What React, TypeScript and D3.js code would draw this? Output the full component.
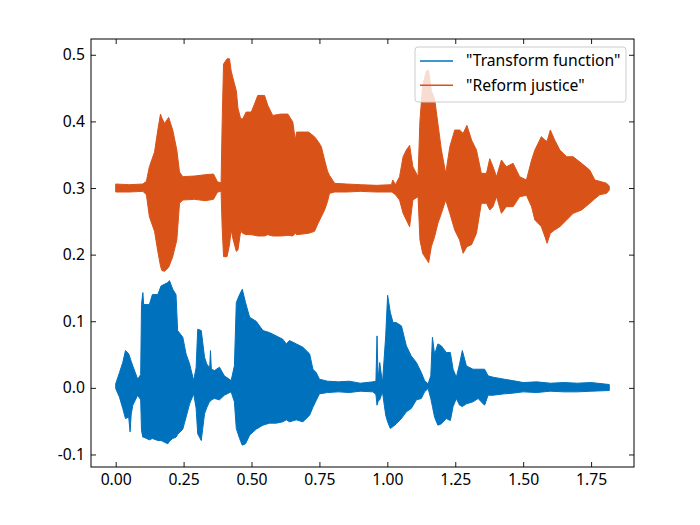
import React, { useEffect, useRef } from 'react'
import * as d3 from 'd3'

// envelope of "Transform function" (blue): [time, upper, lower]
const blueEnvelope: [number, number, number][] = [
  [0.000, 0.006, -0.001], [0.014, 0.023, -0.014], [0.026, 0.038, -0.031], [0.036, 0.056, -0.046],
  [0.048, 0.051, -0.044], [0.053, 0.045, -0.066], [0.057, 0.040, -0.040], [0.063, 0.033, -0.026],
  [0.081, 0.013, -0.011], [0.092, 0.020, -0.018], [0.095, 0.125, -0.064], [0.100, 0.143, -0.074],
  [0.103, 0.125, -0.074], [0.124, 0.125, -0.078], [0.135, 0.140, -0.076], [0.155, 0.140, -0.079],
  [0.167, 0.153, -0.079], [0.192, 0.158, -0.084], [0.198, 0.161, -0.080], [0.210, 0.148, -0.076],
  [0.222, 0.140, -0.074], [0.228, 0.086, -0.070], [0.247, 0.076, -0.062], [0.259, 0.051, -0.044],
  [0.272, 0.036, -0.024], [0.287, 0.011, -0.009], [0.296, 0.030, -0.030], [0.302, 0.088, -0.069],
  [0.315, 0.086, -0.079], [0.327, 0.046, -0.039], [0.335, 0.036, -0.030], [0.346, 0.030, -0.020],
  [0.349, 0.056, -0.020], [0.352, 0.028, -0.018], [0.364, 0.026, -0.016], [0.382, 0.031, -0.018],
  [0.400, 0.018, -0.011], [0.425, 0.011, -0.006], [0.437, 0.033, -0.021], [0.444, 0.128, -0.061],
  [0.456, 0.140, -0.076], [0.466, 0.148, -0.086], [0.478, 0.128, -0.084], [0.493, 0.106, -0.071],
  [0.517, 0.100, -0.062], [0.542, 0.086, -0.056], [0.566, 0.083, -0.053], [0.591, 0.078, -0.053],
  [0.615, 0.073, -0.051], [0.628, 0.066, -0.048], [0.640, 0.071, -0.051], [0.665, 0.066, -0.048],
  [0.689, 0.061, -0.051], [0.714, 0.051, -0.041], [0.726, 0.028, -0.029], [0.738, 0.023, -0.019],
  [0.750, 0.013, -0.009], [0.780, 0.010, -0.007], [0.820, 0.009, -0.006], [0.860, 0.010, -0.007],
  [0.900, 0.007, -0.005], [0.947, 0.009, -0.006], [0.958, 0.010, -0.010], [0.962, 0.078, -0.026],
  [0.966, 0.012, -0.020], [0.972, 0.038, -0.018], [0.982, 0.007, -0.006], [0.994, 0.078, -0.041],
  [1.001, 0.139, -0.051], [1.011, 0.113, -0.061], [1.021, 0.098, -0.058], [1.033, 0.098, -0.054],
  [1.052, 0.093, -0.046], [1.070, 0.063, -0.036], [1.088, 0.048, -0.031], [1.107, 0.038, -0.018],
  [1.125, 0.023, -0.016], [1.137, 0.011, -0.006], [1.150, 0.006, -0.001], [1.160, 0.018, -0.016],
  [1.166, 0.076, -0.028], [1.174, 0.050, -0.044], [1.186, 0.066, -0.056], [1.199, 0.063, -0.054],
  [1.217, 0.053, -0.046], [1.232, 0.053, -0.049], [1.242, 0.028, -0.028], [1.254, 0.016, -0.016],
  [1.266, 0.036, -0.026], [1.276, 0.056, -0.028], [1.291, 0.033, -0.024], [1.315, 0.028, -0.021],
  [1.334, 0.028, -0.016], [1.358, 0.028, -0.026], [1.371, 0.018, -0.011], [1.389, 0.016, -0.011],
  [1.430, 0.013, -0.009], [1.460, 0.011, -0.008], [1.500, 0.008, -0.006], [1.550, 0.009, -0.007],
  [1.600, 0.007, -0.005], [1.650, 0.008, -0.006], [1.700, 0.007, -0.006], [1.750, 0.008, -0.005],
  [1.817, 0.005, -0.004],
]

// envelope of "Reform justice" (orange), drawn around 0.3
const orangeEnvelope: [number, number, number][] = [
  [0.000, 0.306, 0.294], [0.050, 0.305, 0.294], [0.100, 0.306, 0.295], [0.113, 0.310, 0.290],
  [0.124, 0.332, 0.257], [0.143, 0.354, 0.235], [0.155, 0.387, 0.205], [0.165, 0.411, 0.183],
  [0.170, 0.405, 0.176], [0.180, 0.397, 0.175], [0.195, 0.406, 0.181], [0.210, 0.387, 0.197],
  [0.225, 0.357, 0.222], [0.235, 0.324, 0.277], [0.247, 0.317, 0.282], [0.290, 0.318, 0.283],
  [0.330, 0.320, 0.281], [0.360, 0.321, 0.283], [0.375, 0.309, 0.294], [0.388, 0.308, 0.295],
  [0.392, 0.400, 0.240], [0.397, 0.486, 0.197], [0.410, 0.494, 0.197], [0.419, 0.494, 0.215],
  [0.425, 0.476, 0.237], [0.431, 0.466, 0.225], [0.444, 0.446, 0.205], [0.450, 0.420, 0.207],
  [0.460, 0.404, 0.235], [0.468, 0.404, 0.232], [0.480, 0.414, 0.230], [0.499, 0.414, 0.230],
  [0.511, 0.426, 0.229], [0.523, 0.439, 0.228], [0.548, 0.439, 0.228], [0.560, 0.424, 0.230],
  [0.578, 0.409, 0.228], [0.609, 0.411, 0.228], [0.634, 0.411, 0.229], [0.652, 0.399, 0.228],
  [0.661, 0.372, 0.232], [0.666, 0.384, 0.230], [0.710, 0.384, 0.232], [0.732, 0.377, 0.235],
  [0.745, 0.370, 0.247], [0.757, 0.362, 0.257], [0.769, 0.342, 0.267], [0.780, 0.325, 0.280],
  [0.787, 0.319, 0.292], [0.806, 0.307, 0.294], [0.850, 0.306, 0.294], [0.900, 0.305, 0.295],
  [0.960, 0.304, 0.294], [1.015, 0.305, 0.294], [1.020, 0.312, 0.293], [1.030, 0.305, 0.290],
  [1.045, 0.317, 0.282], [1.058, 0.347, 0.262], [1.070, 0.357, 0.252], [1.082, 0.364, 0.242],
  [1.094, 0.332, 0.282], [1.113, 0.317, 0.287], [1.120, 0.401, 0.222], [1.130, 0.454, 0.202],
  [1.144, 0.476, 0.193], [1.152, 0.476, 0.188], [1.162, 0.446, 0.212], [1.174, 0.434, 0.227],
  [1.186, 0.397, 0.247], [1.199, 0.357, 0.262], [1.215, 0.322, 0.282], [1.230, 0.362, 0.262],
  [1.248, 0.387, 0.237], [1.266, 0.387, 0.222], [1.279, 0.382, 0.202], [1.293, 0.394, 0.212],
  [1.310, 0.372, 0.215], [1.328, 0.357, 0.232], [1.346, 0.322, 0.277], [1.365, 0.322, 0.277],
  [1.377, 0.344, 0.267], [1.389, 0.332, 0.272], [1.402, 0.317, 0.287], [1.420, 0.342, 0.262],
  [1.438, 0.332, 0.272], [1.463, 0.337, 0.272], [1.487, 0.317, 0.287], [1.512, 0.312, 0.289],
  [1.531, 0.342, 0.272], [1.543, 0.357, 0.252], [1.567, 0.377, 0.242], [1.580, 0.372, 0.227],
  [1.588, 0.370, 0.217], [1.600, 0.387, 0.232], [1.616, 0.372, 0.237], [1.635, 0.357, 0.242],
  [1.660, 0.347, 0.252], [1.684, 0.347, 0.262], [1.715, 0.337, 0.267], [1.745, 0.327, 0.277],
  [1.764, 0.312, 0.284], [1.782, 0.310, 0.290], [1.807, 0.307, 0.292], [1.817, 0.303, 0.297],
]

const seriesNames = ['"Transform function"', '"Reform justice"']
const seriesColors = ['#0072BD', '#D95319']
const xTicks = [0, 0.25, 0.5, 0.75, 1.0, 1.25, 1.5, 1.75]
const yTicks = [-0.1, 0, 0.1, 0.2, 0.3, 0.4, 0.5]

export default function App() {
  const svgRef = useRef<SVGSVGElement | null>(null)
  const W = 700
  const H = 525
  const margin = { top: 39, right: 66, bottom: 58, left: 91 }

  useEffect(() => {
    const svg = d3.select(svgRef.current)
    svg.selectAll('*').remove()
    const width = W - margin.left - margin.right
    const height = H - margin.top - margin.bottom
    const font = '"Noto Sans", "Open Sans", sans-serif'
    const fs = 15.7

    const x = d3.scaleLinear().domain([-0.0909, 1.908]).range([0, width])
    const y = d3.scaleLinear().domain([-0.1188, 0.5237]).range([height, 0])

    const g = svg.append('g').attr('transform', `translate(${margin.left},${margin.top})`)

    // waveforms drawn as filled envelopes
    const area = d3.area<[number, number, number]>()
      .x((d) => x(d[0]))
      .y0((d) => y(d[2]))
      .y1((d) => y(d[1]))
    ;[blueEnvelope, orangeEnvelope].forEach((env, si) => {
      g.append('path')
        .attr('d', area(env))
        .attr('fill', seriesColors[si])
        .attr('stroke', seriesColors[si])
        .attr('stroke-width', 1)
    })

    // axes, ticks pointing inward on all four sides
    const xAxis = g.append('g')
      .attr('transform', `translate(0,${height})`)
      .call(d3.axisBottom(x).tickValues(xTicks).tickFormat(d3.format('.2f')).tickSizeInner(-5).tickSizeOuter(0).tickPadding(7))
    const yAxis = g.append('g')
      .call(d3.axisLeft(y).tickValues(yTicks).tickFormat((d) => d3.format('.1f')(d as number).replace('−', '-')).tickSizeInner(-5).tickSizeOuter(0).tickPadding(6))
    const xTop = g.append('g')
      .call(d3.axisTop(x).tickValues(xTicks).tickFormat(() => '').tickSizeInner(-5).tickSizeOuter(0))
    const yRight = g.append('g')
      .attr('transform', `translate(${width},0)`)
      .call(d3.axisRight(y).tickValues(yTicks).tickFormat(() => '').tickSizeInner(-5).tickSizeOuter(0))

    ;[xAxis, yAxis, xTop, yRight].forEach((ax) => {
      ax.select('.domain').remove()
      ax.selectAll('line').attr('stroke', '#000').attr('stroke-width', 0.9)
      ax.selectAll('text').attr('font-family', font).attr('font-size', fs).attr('fill', '#000')
    })

    g.append('rect')
      .attr('x', 0).attr('y', 0)
      .attr('width', width).attr('height', height)
      .attr('fill', 'none').attr('stroke', '#000').attr('stroke-width', 1)

    // legend
    const lg = svg.append('g').attr('transform', 'translate(415,47)')
    lg.append('rect')
      .attr('width', 211).attr('height', 55).attr('rx', 3)
      .attr('fill', '#fff').attr('fill-opacity', 0.8)
      .attr('stroke', '#cccccc').attr('stroke-width', 1)
    seriesNames.forEach((name, i) => {
      const yy = 14 + i * 24.3
      lg.append('line')
        .attr('x1', 5).attr('x2', 38).attr('y1', yy).attr('y2', yy)
        .attr('stroke', seriesColors[i]).attr('stroke-width', 1.6)
      lg.append('text')
        .attr('x', 51).attr('y', yy).attr('dy', '0.35em')
        .attr('font-family', font).attr('font-size', fs).attr('fill', '#000')
        .text(name)
    })
  }, [])

  return (
    <svg
      ref={svgRef}
      width={W}
      height={H}
      style={{ position: 'absolute', left: 0, top: 0, background: '#fff' }}
    />
  )
}
